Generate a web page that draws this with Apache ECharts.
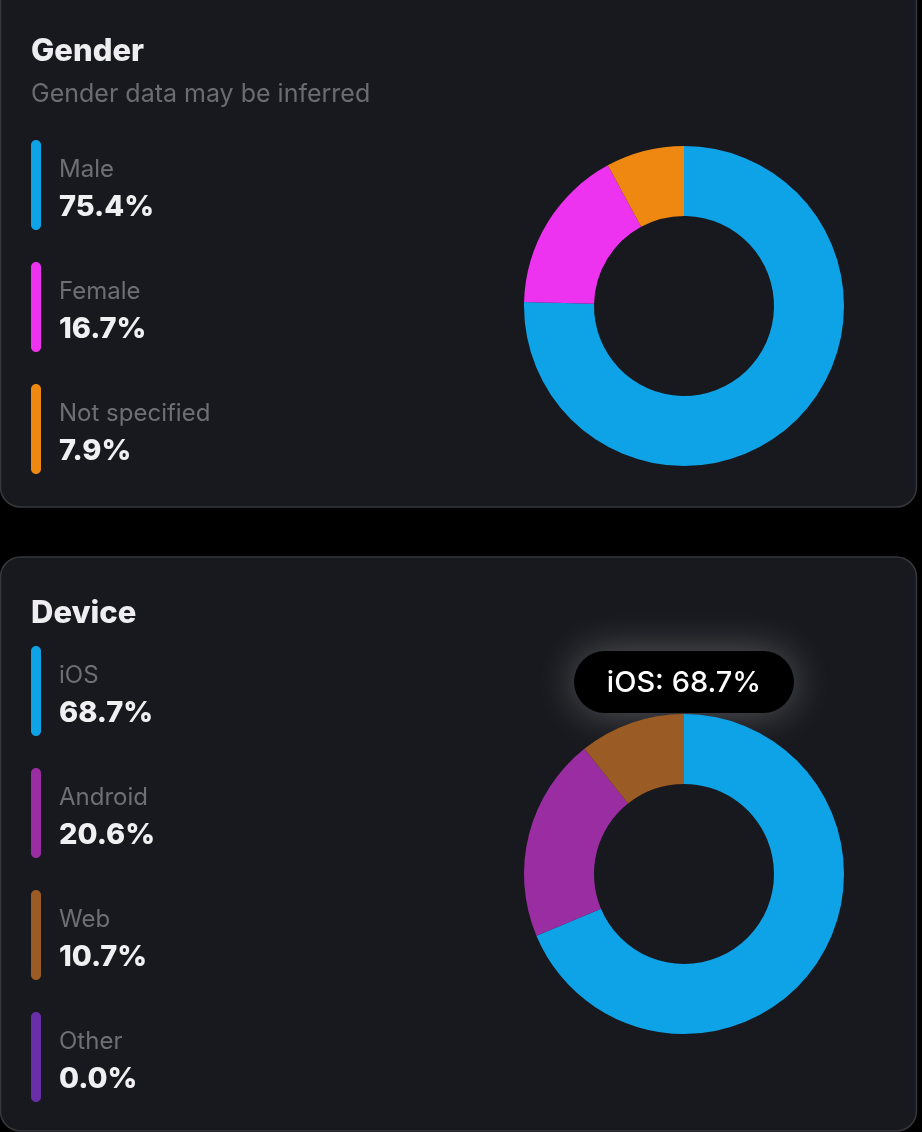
<!DOCTYPE html>
<html>
<head>
<meta charset="utf-8">
<script src="https://cdn.jsdelivr.net/npm/echarts@6/dist/echarts.min.js"></script>
<style>
html,body{margin:0;padding:0;background:#000;}
#chart{width:922px;height:1132px;}
</style>
</head>
<body>
<div id="chart"></div>
<script>
// ---- data ----
const genderNames = ['Male', 'Female', 'Not specified'];
const genderValues = [75.4, 16.7, 7.9];
const genderColors = ['#0EA2E6', '#EE33F0', '#EE8811'];

const deviceNames = ['iOS', 'Android', 'Web', 'Other'];
const deviceValues = [68.7, 20.6, 10.7, 0.0];
const deviceColors = ['#0EA2E6', '#9B2DA3', '#9A5C24', '#6A2FA8'];

const genderTitle = 'Gender';
const genderSubtitle = 'Gender data may be inferred';
const deviceTitle = 'Device';
const highlighted = 0; // iOS tooltip

const FONT = 'Inter, "Noto Sans", sans-serif';
const capsule = 'path://M0,5 C0,2.24 2.24,0 5,0 C7.76,0 10,2.24 10,5 L10,85 C10,87.76 7.76,90 5,90 C2.24,90 0,87.76 0,85 Z';

function toData(names, values, colors) {
  return names.map((n, i) => ({ name: n, value: values[i], itemStyle: { color: colors[i] } }));
}
const genderMap = {}; genderNames.forEach((n, i) => genderMap[n] = genderValues[i]);
const deviceMap = {}; deviceNames.forEach((n, i) => deviceMap[n] = deviceValues[i]);

function legendCfg(names, map, top) {
  return {
    data: names,
    orient: 'vertical',
    left: 31,
    top: top,
    padding: 0,
    icon: capsule,
    itemWidth: 10,
    itemHeight: 90,
    itemGap: 32,
    selectedMode: false,
    formatter: n => '{n|' + n + '}\n{v|' + map[n].toFixed(1) + '%}',
    textStyle: {
      fontFamily: FONT,
      padding: [6, 0, 0, 0],
      rich: {
        n: { fontSize: 24, color: '#6E6F75', lineHeight: 39, padding: [0, 0, 0, 13], fontFamily: FONT },
        v: { fontSize: 29, fontWeight: 800, color: '#F0F0F2', lineHeight: 37, padding: [0, 0, 0, 13], fontFamily: FONT }
      }
    }
  };
}

const chart = echarts.init(document.getElementById('chart'), null, { renderer: 'canvas' });
const tipText = deviceNames[highlighted] + ': ' + deviceValues[highlighted].toFixed(1) + '%';

chart.setOption({
  backgroundColor: '#000',
  animation: false,
  title: [
    {
      text: genderTitle, subtext: genderSubtitle, left: 31, top: 36, itemGap: 15, padding: 0,
      textStyle: { fontFamily: FONT, fontSize: 31, fontWeight: 800, color: '#EEEEF0' },
      subtextStyle: { fontFamily: FONT, fontSize: 25, color: '#6B6C72' }
    },
    {
      text: deviceTitle, left: 31, top: 598, padding: 0,
      textStyle: { fontFamily: FONT, fontSize: 31, fontWeight: 800, color: '#EEEEF0' }
    }
  ],
  legend: [legendCfg(genderNames, genderMap, 140), legendCfg(deviceNames, deviceMap, 646)],
  graphic: [
    { type: 'rect', z: -100, silent: true, shape: { x: 0.5, y: -20, width: 916, height: 527, r: 20 },
      style: { fill: '#18191E', stroke: '#36373C', lineWidth: 1.5 } },
    { type: 'rect', z: -100, silent: true, shape: { x: 0.5, y: 557, width: 916, height: 574, r: 20 },
      style: { fill: '#18191E', stroke: '#36373C', lineWidth: 1.5 } },
    { type: 'group', z: 100, children: [
      { type: 'rect', shape: { x: 574, y: 651, width: 220, height: 62, r: 31 },
        style: { fill: '#000', shadowBlur: 40, shadowColor: 'rgba(255,255,255,0.28)' } },
      { type: 'text', x: 684, y: 683,
        style: { text: tipText, fill: '#fff', fontSize: 29, fontWeight: 500, fontFamily: FONT, align: 'center', verticalAlign: 'middle' } }
    ]}
  ],
  series: [
    {
      type: 'pie', center: [684, 306], radius: [90, 160], startAngle: 90, clockwise: true,
      label: { show: false }, labelLine: { show: false }, silent: true,
      itemStyle: { borderWidth: 0 },
      data: toData(genderNames, genderValues, genderColors)
    },
    {
      type: 'pie', center: [684, 874], radius: [90, 160], startAngle: 90, clockwise: true,
      label: { show: false }, labelLine: { show: false }, silent: true,
      itemStyle: { borderWidth: 0 },
      data: toData(deviceNames, deviceValues, deviceColors)
    }
  ]
});
</script>
</body>
</html>
